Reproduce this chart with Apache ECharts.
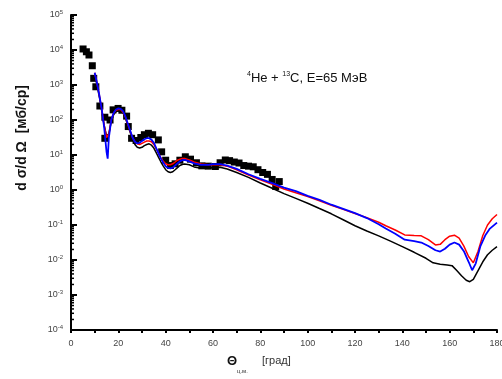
<!DOCTYPE html>
<html><head><meta charset="utf-8">
<script src="https://cdn.jsdelivr.net/npm/echarts@6/dist/echarts.min.js"></script>
<style>html,body{margin:0;padding:0;background:#fff}#c{width:502px;height:379px}</style>
</head><body><div id="c"></div>
<script>
// Experimental data (squares)
const expAngles = [5.1,6.5,7.6,9.0,9.6,10.5,12.2,14.3,14.3,16.5,17.8,19.9,21.5,23.5,24.2,25.6,27.5,29.5,31,32.7,34.5,36.9,38.3,40,42,44,46,48.3,50.5,53,55.3,58,61,63,65.2,67,69,71,73,75,77,79,81,83,85,86.5,88];
const expValues = [10700,8900,7200,3550,1550,890,251,120,30,100,195,214,190,129,65,30,26,31.6,38,41.7,38,27,12.3,7.1,5.0,5.6,7.1,8.9,7.6,6.0,4.9,4.8,4.7,6.0,7.2,6.9,6.3,5.9,5.0,4.8,4.6,3.8,3.16,2.8,2.0,1.26,1.74];

// Calculation angles (shared)
const calcAngles = [10,11,12,13,14,15,15.5,16,17,18,19,20,21,22,23,24,25,26,27,28,29,30,31,32,33,34,35,36,37,38,39,40,41,42,43,44,45,46,47,48,50,52,55,58,60,63,66,70,75,80,85,90,95,100,105,110,115,120,125,130,133,137,141,145,148,151,154,156,158,160,162,164,166,168,169.5,171,173,175,177,180];
const blueValues = [2240,1120,500,200,63,12.6,7.9,31.6,100,158,200,214,209,178,126,79,50,31.6,24,21.4,22.4,25.1,28.2,30.2,30.2,27.5,22.4,15.8,11.2,7.9,6.0,4.8,4.27,4.17,4.37,5.0,5.75,6.6,7.1,7.24,6.6,5.75,5.25,5.25,5.5,5.5,5.0,4.0,2.82,2.09,1.58,1.17,0.93,0.68,0.525,0.38,0.29,0.219,0.158,0.105,0.079,0.056,0.038,0.0347,0.0316,0.0251,0.019,0.0174,0.0209,0.0275,0.0316,0.0275,0.0178,0.0089,0.0051,0.0079,0.0251,0.05,0.079,0.117];

const redAngles = [10,11,12,13,14,15,15.5,16,17,18,19,20,21,22,23,24,25,26,27,28,29,30,31,32,33,34,35,36,37,38,39,40,41,42,43,44,45,46,47,48,50,52,55,58,60,63,66,70,75,80,85,90,95,100,105,110,115,120,125,130,133,137,141,145,148,151,154,156,158,160,162,164,166,168,170,172,174,176,178,180];
const redValues = [2240,1120,500,200,71,31.6,28.2,40,100,158,191,200,200,166,120,76,48,31.6,24,20.9,20,21.4,23.4,25.1,25.1,24,20,15.1,11.2,8.3,6.6,5.6,5.25,5.25,5.6,6.3,7.1,7.6,7.9,7.9,7.2,6.3,5.5,5.25,5.25,5.25,4.8,3.8,2.69,1.95,1.45,1.07,0.83,0.65,0.49,0.363,0.28,0.214,0.162,0.12,0.095,0.072,0.052,0.05,0.049,0.038,0.027,0.028,0.038,0.048,0.051,0.042,0.025,0.0126,0.0083,0.0178,0.05,0.1,0.151,0.2];

const blackAngles = [10,11,12,13,14,15,15.5,16,17,18,19,20,21,22,23,24,25,26,27,28,29,30,31,32,33,34,35,36,37,38,39,40,41,42,43,44,45,46,47,48,50,52,55,58,60,63,66,70,75,80,85,90,95,100,105,110,115,120,125,130,135,140,145,150,153,156,159,161,163,165,167,168.5,170,172,174,176,178,180];
const blackValues = [2000,1000,447,178,71,35.5,31.6,40,89,141,178,191,186,158,112,71,44.7,28.2,20,16.6,15.8,16.6,18.6,20,20.9,19.1,15.8,11.7,8.5,6.3,4.8,3.8,3.31,3.16,3.31,3.8,4.37,5.0,5.37,5.5,5.25,4.57,4.17,4.17,4.37,4.47,4.0,3.16,2.29,1.58,1.12,0.79,0.575,0.417,0.295,0.209,0.141,0.095,0.0676,0.049,0.0347,0.024,0.0166,0.0112,0.0083,0.0076,0.0072,0.0069,0.005,0.00355,0.00263,0.0024,0.0028,0.005,0.0089,0.0141,0.019,0.024];

// Axis ticks
const xTicks = [0,20,40,60,80,100,120,140,160,180];
const yDecades = [-4,-3,-2,-1,0,1,2,3,4,5];
const minorMantissas = [2,3,4,5,6,7,8,9];

const zip = (a, b) => a.map((v, i) => [v, b[i]]);
const minorTickData = [];
yDecades.slice(0, -1).forEach(k => minorMantissas.forEach(m => minorTickData.push([0, m * Math.pow(10, k)])));

const chart = echarts.init(document.getElementById('c'), null, {renderer: 'canvas'});
chart.setOption({
  animation: false,
  backgroundColor: '#fff',
  grid: {left: 71, right: 5, top: 15, bottom: 49, outerBoundsMode: 'none'},
  title: {
    text: '{sup|4}He + {sup|13}C, E=65 МэВ',
    left: 242, top: 66,
    textStyle: {
      fontFamily: 'Liberation Sans, Arial', fontSize: 13, fontWeight: 'normal', color: '#111',
      rich: {sup: {fontSize: 7, verticalAlign: 'top', padding: [0,0,7,0], color: '#111', fontFamily: 'Liberation Sans'}}
    }
  },
  xAxis: {
    type: 'value', min: 0, max: 180, interval: 20,
    axisLine: {show: true, onZero: false, lineStyle: {color: '#000', width: 2}},
    axisTick: {show: true, inside: false, length: 3, lineStyle: {color: '#000', width: 2}},
    minorTick: {show: true, splitNumber: 2, length: 3, lineStyle: {color: '#000', width: 2}},
    axisLabel: {color: '#444', fontSize: 9, fontFamily: 'Liberation Sans', margin: 9,
      formatter: v => xTicks.includes(v) ? String(v) : ''},
    splitLine: {show: false}
  },
  yAxis: {
    type: 'log', logBase: 10, min: 1e-4, max: 1e5, splitNumber: 9,
    axisLine: {show: true, lineStyle: {color: '#000', width: 2}},
    axisTick: {show: true, inside: true, length: 6, lineStyle: {color: '#000', width: 2}},
    axisLabel: {
      color: '#444', fontSize: 9, fontFamily: 'Liberation Sans', margin: 8,
      formatter: v => {
        const e = Math.round(Math.log10(v));
        return yDecades.includes(e) ? '10{sup|' + e + '}' : '';
      },
      rich: {sup: {fontSize: 6, verticalAlign: 'top', padding: [0,0,6,0], color: '#444'}}
    },
    splitLine: {show: false}
  },
  graphic: [
    {type: 'text', left: 15, top: 85, rotation: Math.PI / 2,
     style: {text: 'd σ/d Ω  [мб/ср]', font: 'bold 14px Liberation Sans', fill: '#111'}},
    {type: 'text', left: 227, top: 355,
     style: {text: 'Θ', font: 'bold 13px Liberation Sans', fill: '#111'}},
    {type: 'text', left: 237, top: 368,
     style: {text: 'ц.м.', font: '6px Liberation Sans', fill: '#333'}},
    {type: 'text', left: 262, top: 355,
     style: {text: '[град]', font: '11px Liberation Sans', fill: '#333'}}
  ],
  series: [
    {
      type: 'custom', silent: true, z: 1,
      data: minorTickData,
      renderItem: (params, api) => {
        const p = api.coord([api.value(0), api.value(1)]);
        return {type: 'line', shape: {x1: p[0], y1: p[1], x2: p[0] + 3, y2: p[1]},
                style: {stroke: '#000', lineWidth: 1.5}};
      }
    },
    {type: 'scatter', data: zip(expAngles, expValues), symbol: 'rect', symbolSize: 7,
     itemStyle: {color: '#000', opacity: 1}, z: 2},
    {type: 'line', data: zip(blackAngles, blackValues), showSymbol: false, symbol: 'none',
     lineStyle: {color: '#000', width: 1.5}, z: 3},
    {type: 'line', data: zip(redAngles, redValues), showSymbol: false, symbol: 'none',
     lineStyle: {color: '#ff0000', width: 1.5}, z: 4},
    {type: 'line', data: zip(calcAngles, blueValues), showSymbol: false, symbol: 'none',
     lineStyle: {color: '#0000ff', width: 1.8}, z: 5}
  ]
});
</script>
</body></html>
